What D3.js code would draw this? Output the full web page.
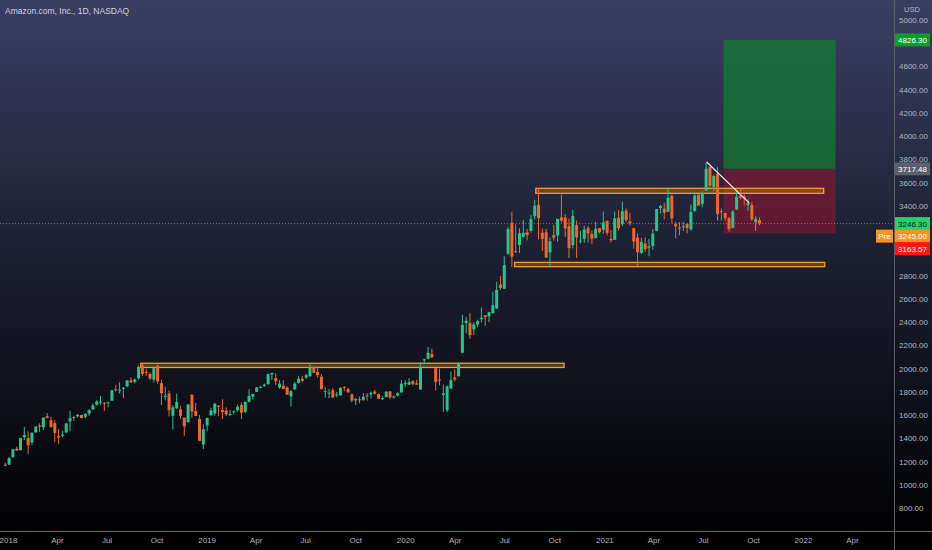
<!DOCTYPE html>
<html>
<head>
<meta charset="utf-8">
<script src="https://cdn.jsdelivr.net/npm/d3@7"></script>
<style>
  html, body { margin: 0; padding: 0; background: #000; }
  svg { display: block; }
  text { font-family: "Liberation Sans", Arial, sans-serif; }
</style>
</head>
<body>
<svg id="chart" width="932" height="550"></svg>
<script>
// ---------------- DATA (weekly bars: [open, high, low, close]) ----------------
const firstWeek = "2017-12-25";
const bars2017 = [[1172,1188,1165,1169]];
const bars2018 = [
  [1172,1237,1170,1229],[1236,1308,1236,1305],[1310,1327,1290,1294],[1297,1403,1297,1402],[1409,1498,1385,1430],
  [1402,1459,1265,1339],[1364,1450,1339,1448],[1452,1503,1446,1500],[1510,1528,1455,1500],
  [1494,1578,1472,1578],[1590,1617,1578,1572],[1554,1587,1495,1495],[1530,1556,1366,1447],
  [1417,1478,1352,1406],[1425,1462,1406,1431],[1451,1530,1445,1527],[1546,1638,1460,1572],[1582,1594,1546,1581],
  [1589,1607,1577,1602],[1600,1603,1572,1574],[1585,1616,1573,1610],[1612,1650,1592,1642],
  [1648,1699,1648,1683],[1689,1726,1681,1715],[1706,1763,1690,1715],[1703,1713,1635,1699],
  [1703,1712,1668,1710],[1724,1815,1721,1813],[1821,1858,1802,1813],[1812,1880,1786,1817],[1827,1841,1746,1834],
  [1847,1903,1839,1896],[1898,1925,1875,1882],[1886,1915,1871,1905],[1916,2025,1904,2013],
  [2026,2050,1935,1952],[1971,1999,1935,1970],[1954,1966,1900,1915],[1904,2017,1879,2003],
  [2021,2033,1868,1889],[1874,1902,1685,1788],[1757,1845,1726,1765],[1784,1809,1587,1642],[1593,1685,1476,1665],
  [1658,1784,1651,1712],[1648,1679,1566,1593],[1577,1577,1420,1502],[1539,1696,1535,1690],
  [1775,1778,1575,1630],[1634,1704,1591,1591],[1566,1601,1377,1377],[1346,1520,1307,1478],
  [1510,1575,1460,1575]
];
const bars2019 = [
  [1597,1663,1597,1640],[1614,1707,1595,1696],[1681,1681,1590,1670],[1643,1736,1566,1626],
  [1638,1665,1592,1607],[1600,1641,1590,1608],[1623,1640,1604,1632],[1641,1690,1630,1672],
  [1685,1709,1566,1620],[1628,1716,1615,1712],[1713,1823,1708,1765],[1757,1781,1735,1781],
  [1800,1839,1798,1837],[1833,1850,1831,1843],[1851,1871,1841,1862],[1865,1956,1862,1951],[1950,1963,1901,1962],
  [1918,1959,1856,1889],[1837,1900,1826,1870],[1852,1899,1821,1823],[1836,1849,1774,1775],
  [1760,1813,1672,1805],[1822,1885,1815,1870],[1876,1935,1870,1912],[1912,1935,1880,1893],
  [1922,1952,1909,1942],[1934,2035,1928,2011],[2010,2022,1961,1964],[1971,2019,1924,1943],[1930,1953,1821,1823],
  [1799,1840,1748,1807],[1787,1824,1745,1792],[1814,1833,1750,1750],[1768,1799,1752,1777],
  [1770,1838,1765,1834],[1841,1850,1806,1839],[1822,1833,1793,1794],[1777,1785,1711,1725],[1726,1745,1685,1739],
  [1735,1758,1701,1731],[1730,1791,1722,1757],[1769,1790,1724,1762],[1777,1801,1741,1791],
  [1801,1815,1774,1785],[1779,1786,1747,1739],[1738,1762,1730,1745],[1753,1808,1753,1800],
  [1804,1805,1735,1751],[1750,1769,1740,1760],[1767,1799,1759,1786],[1794,1901,1793,1869],[1874,1899,1843,1875]
];
const bars2020 = [
  [1861,1917,1860,1883],[1891,1900,1855,1865],[1872,1903,1860,1861],[1820,2055,1815,2009],
  [2070,2085,2037,2079],[2085,2185,2081,2135],[2125,2170,2095,2095],[2003,2017,1811,1884],
  [1906,1999,1855,1901],[1773,1862,1626,1785],[1641,1853,1626,1846],[1827,1974,1827,1900],[1922,1993,1889,1906],
  [1933,2053,1933,2042],[2137,2461,2130,2375],[2390,2444,2303,2410],[2393,2475,2256,2286],
  [2336,2398,2287,2379],[2378,2420,2356,2409],[2425,2525,2396,2436],[2458,2460,2367,2442],
  [2448,2488,2400,2483],[2476,2660,2471,2545],[2516,2746,2510,2675],[2722,2796,2675,2692],[2686,2965,2686,2890],
  [2988,3220,2977,3200],[3251,3344,2871,2961],[3009,3241,2996,3008],[3062,3207,2993,3165],
  [3133,3279,3127,3167],[3171,3201,3101,3149],[3183,3320,3169,3285],[3310,3451,3285,3401],[3408,3552,3111,3294],
  [3167,3206,3012,3116],[3172,3201,2953,2954],[2999,3128,2871,3095],[3148,3235,3100,3125],
  [3145,3287,3090,3287],[3300,3496,3259,3272],[3299,3328,3134,3204],[3224,3291,2951,3036],
  [3061,3366,3033,3312],[3232,3272,2951,3128],[3093,3185,3074,3099],[3116,3229,3080,3195],[3208,3228,3082,3162],
  [3158,3187,3072,3117],[3124,3263,3118,3202],[3206,3210,3160,3172],[3194,3350,3157,3257]
];
const bars2021 = [
  [3270,3272,3144,3167],[3114,3190,3086,3104],[3107,3350,3107,3292],[3298,3363,3183,3206],
  [3242,3436,3226,3352],[3358,3377,3260,3277],[3265,3338,3230,3249],[3208,3208,3030,3093],
  [3127,3161,2881,3000],[2995,3124,2985,3089],[3075,3128,3006,3027],[3039,3115,2965,3052],[3055,3200,3022,3161],
  [3184,3372,3180,3372],[3380,3406,3333,3399],[3375,3427,3283,3340],[3348,3554,3347,3467],
  [3484,3497,3247,3291],[3245,3263,3119,3222],[3212,3260,3146,3203],[3215,3261,3182,3224],[3243,3250,3163,3207],
  [3198,3410,3183,3346],[3356,3500,3345,3487],[3495,3500,3412,3401],[3416,3526,3390,3511],
  [3530,3773,3530,3719],[3735,3735,3550,3573],[3560,3666,3524,3656],[3674,3736,3273,3327],
  [3353,3377,3273,3344],[3339,3339,3271,3293],[3292,3304,3176,3199],[3211,3364,3205,3349],[3367,3527,3365,3478],
  [3487,3550,3453,3469],[3482,3497,3404,3462],[3406,3455,3355,3425],[3407,3430,3270,3283],
  [3259,3310,3183,3289],[3276,3303,3231,3246]
];

// horizontal zones: [start, end, top, bottom]
const zones = [
  ["2018-09-02","2020-10-19",2045,2009],
  ["2020-08-28","2022-02-08",3550,3507],
  ["2020-07-20","2022-02-10",2913,2876]
];
// long position tool
const position = { start:"2021-08-08", end:"2022-03-02", target:4826.30, entry:3717.48, stop:3163.57 };
// trend line
const trend = [["2021-07-08",3776],["2021-09-24",3425]];
const lastPrice = 3246.30, prePrice = 3245.00;

// price-axis tick labels (4800, 3200 and 3000 sit under the coloured price labels)
const yTicks = [800,1000,1200,1400,1600,1800,2000,2200,2400,2600,2800,3400,3600,3800,4000,4200,4400,4600,5000];
const xTickDates = ["2018-01-01","2018-04-01","2018-07-01","2018-10-01","2019-01-01","2019-04-01","2019-07-01","2019-10-01",
  "2020-01-01","2020-04-01","2020-07-01","2020-10-01","2021-01-01","2021-04-01","2021-07-01","2021-10-01","2022-01-01","2022-04-01"];
const title = "Amazon.com, Inc., 1D, NASDAQ";

// ---------------- CHART ----------------
const W = 932, H = 550, axisX = 894, axisY = 531;
const parse = d3.utcParse("%Y-%m-%d");
const svg = d3.select("#chart");

const defs = svg.append("defs");
const grad = defs.append("linearGradient").attr("id","bg").attr("x1",0).attr("y1",0).attr("x2",0).attr("y2",1);
grad.append("stop").attr("offset","0%").attr("stop-color","#3a3f63");
grad.append("stop").attr("offset","45%").attr("stop-color","#1d2032");
grad.append("stop").attr("offset","100%").attr("stop-color","#000000");
defs.append("clipPath").attr("id","plot").append("rect").attr("x",0).attr("y",0).attr("width",axisX).attr("height",axisY);

svg.append("rect").attr("width",W).attr("height",H).attr("fill","url(#bg)");
svg.append("rect").attr("y",axisY).attr("width",W).attr("height",H-axisY).attr("fill","#000");

const x = d3.scaleUtc().domain([parse("2018-01-01"), parse("2022-01-01")]).range([8, 803]);
const y = d3.scaleLinear().domain([800, 5000]).range([508, 19.75]);

const allBars = [].concat(bars2017, bars2018, bars2019, bars2020, bars2021);
const start = parse(firstWeek);
const candles = allBars.map((b, i) => ({
  date: d3.utcDay.offset(d3.utcWeek.offset(start, i), 2),
  o: b[0], h: b[1], l: b[2], c: b[3]
}));

const plot = svg.append("g").attr("clip-path","url(#plot)");

// position tool
plot.append("rect")
  .attr("x", x(parse(position.start))).attr("width", x(parse(position.end)) - x(parse(position.start)))
  .attr("y", y(position.target)).attr("height", y(position.entry) - y(position.target))
  .attr("fill", "rgba(12,150,40,0.55)");
plot.append("rect")
  .attr("x", x(parse(position.start))).attr("width", x(parse(position.end)) - x(parse(position.start)))
  .attr("y", y(position.entry)).attr("height", y(position.stop) - y(position.entry))
  .attr("fill", "rgba(150,20,45,0.55)");

// last price dotted line
plot.append("line").attr("x1",0).attr("x2",axisX).attr("y1",y(lastPrice)).attr("y2",y(lastPrice))
  .attr("stroke","#d08d3a").attr("stroke-opacity",0.7).attr("stroke-width",1).attr("stroke-dasharray","1,2");

// zones
plot.selectAll("rect.zone").data(zones).join("rect").attr("class","zone")
  .attr("x", d => x(parse(d[0]))).attr("width", d => x(parse(d[1])) - x(parse(d[0])))
  .attr("y", d => y(d[2])).attr("height", d => y(d[3]) - y(d[2]))
  .attr("fill","rgba(245,160,30,0.28)").attr("stroke","#f5a01e").attr("stroke-width",1.3);

// candles
const up = "#27c48c", down = "#f2652c";
const cw = 3;
const cg = plot.append("g");
cg.selectAll("line.wick").data(candles).join("line").attr("class","wick")
  .attr("x1", d => x(d.date)).attr("x2", d => x(d.date))
  .attr("y1", d => y(d.h)).attr("y2", d => y(d.l))
  .attr("stroke", d => d.c >= d.o ? up : down).attr("stroke-width", 1);
cg.selectAll("rect.body").data(candles).join("rect").attr("class","body")
  .attr("x", d => x(d.date) - cw/2).attr("width", cw)
  .attr("y", d => y(Math.max(d.o, d.c)))
  .attr("height", d => Math.max(1, Math.abs(y(d.o) - y(d.c))))
  .attr("fill", d => d.c >= d.o ? up : down);

// trend line
plot.append("line")
  .attr("x1", x(parse(trend[0][0]))).attr("y1", y(trend[0][1]))
  .attr("x2", x(parse(trend[1][0]))).attr("y2", y(trend[1][1]))
  .attr("stroke","#f3e6ee").attr("stroke-width",1.2);

// axes lines
svg.append("line").attr("x1",axisX+0.5).attr("x2",axisX+0.5).attr("y1",0).attr("y2",H).attr("stroke","#5b5e69");
svg.append("line").attr("x1",0).attr("x2",W).attr("y1",axisY+0.5).attr("y2",axisY+0.5).attr("stroke","#6a6d78");

// x axis
const xAxis = d3.axisBottom(x).tickValues(xTickDates.map(parse)).tickSize(0).tickPadding(5)
  .tickFormat(d => d.getUTCMonth() === 0 ? d3.utcFormat("%Y")(d) : d3.utcFormat("%b")(d));
const gx = svg.append("g").attr("transform", `translate(0,${axisY+1})`).call(xAxis);
gx.select(".domain").remove();
gx.selectAll("text").attr("fill","#b2b5be").style("font-size","8px");

// y axis
const yAxis = d3.axisRight(y).tickValues(yTicks).tickSize(0).tickPadding(5).tickFormat(d3.format(".2f"));
const gy = svg.append("g").attr("transform", `translate(${axisX},0)`).call(yAxis);
gy.select(".domain").remove();
gy.selectAll("text").attr("fill","#b2b5be").style("font-size","8px");

svg.append("text").attr("x", 912).attr("y", 12).attr("text-anchor","middle")
  .attr("fill","#b2b5be").style("font-size","7.5px").text("USD");

// price labels on axis
function priceLabel(cy, val, bg, fg) {
  svg.append("rect").attr("x", axisX+1).attr("y", cy-6.5).attr("width", 35).attr("height", 13).attr("fill", bg);
  svg.append("text").attr("x", axisX+18.5).attr("y", cy+3).attr("text-anchor","middle")
    .attr("fill", fg).style("font-size","8px").text(d3.format(".2f")(val));
}
priceLabel(y(position.target), position.target, "#0e9d27", "#ffffff");
priceLabel(y(position.entry), position.entry, "#5d606b", "#ffffff");
priceLabel(y(lastPrice), lastPrice, "#23d36a", "#131722");
priceLabel(y(lastPrice)+12.5, prePrice, "#f7931e", "#ffffff");
priceLabel(y(lastPrice)+25, position.stop, "#ff1616", "#ffffff");
svg.append("rect").attr("x", 876).attr("y", y(lastPrice)+6).attr("width", 17).attr("height", 13).attr("fill", "#f7931e");
svg.append("text").attr("x", 884.5).attr("y", y(lastPrice)+15.5).attr("text-anchor","middle")
  .attr("fill","#ffffff").style("font-size","8px").text("Pre");

// title
svg.append("text").attr("x", 5).attr("y", 14).attr("fill","#d1d4dc").style("font-size","8.5px").text(title);
</script>
</body>
</html>
